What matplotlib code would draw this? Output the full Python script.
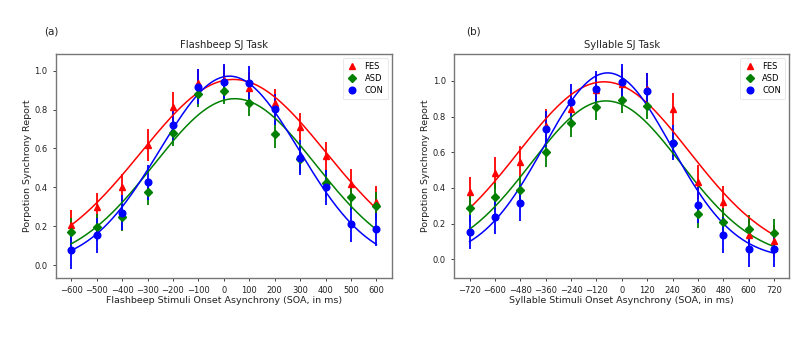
import numpy as np
import matplotlib
matplotlib.use("Agg")
import matplotlib.pyplot as plt

# ---------------- Data ----------------
soa_flash = [-600, -500, -400, -300, -200, -100, 0, 100, 200, 300, 400, 500, 600]
fes_flash = [0.205, 0.30, 0.40, 0.618, 0.815, 0.935, 0.95, 0.913, 0.835, 0.712, 0.561, 0.417, 0.326]
fes_flash_err = [0.08, 0.07, 0.07, 0.08, 0.075, 0.075, 0.08, 0.08, 0.07, 0.07, 0.07, 0.075, 0.08]
asd_flash = [0.170, 0.194, 0.245, 0.377, 0.678, 0.878, 0.896, 0.835, 0.673, 0.544, 0.42, 0.352, 0.304]
asd_flash_err = [0.07, 0.07, 0.07, 0.07, 0.065, 0.065, 0.065, 0.07, 0.07, 0.07, 0.07, 0.07, 0.07]
con_flash = [0.077, 0.154, 0.269, 0.426, 0.72, 0.918, 0.943, 0.935, 0.801, 0.552, 0.40, 0.209, 0.184]
con_flash_err = [0.095, 0.09, 0.09, 0.09, 0.08, 0.09, 0.09, 0.09, 0.08, 0.09, 0.09, 0.09, 0.085]
# Gaussian fit parameters (amplitude, centre, width)
fit_flash = {"FES": (0.955, 38, 364), "ASD": (0.856, 43, 317), "CON": (0.972, 22, 275)}

soa_syl = [-720, -600, -480, -360, -240, -120, 0, 120, 240, 360, 480, 600, 720]
fes_syl = [0.376, 0.486, 0.545, 0.75, 0.843, 0.95, 0.98, 0.955, 0.843, 0.435, 0.323, 0.136, 0.104]
fes_syl_err = [0.087, 0.09, 0.09, 0.09, 0.09, 0.09, 0.09, 0.09, 0.09, 0.095, 0.09, 0.09, 0.09]
asd_syl = [0.288, 0.351, 0.389, 0.60, 0.763, 0.856, 0.893, 0.862, 0.651, 0.252, 0.211, 0.17, 0.149]
asd_syl_err = [0.077, 0.077, 0.077, 0.08, 0.075, 0.075, 0.075, 0.075, 0.08, 0.075, 0.077, 0.077, 0.077]
con_syl = [0.151, 0.239, 0.316, 0.731, 0.884, 0.955, 0.993, 0.944, 0.654, 0.305, 0.136, 0.056, 0.056]
con_syl_err = [0.095, 0.095, 0.1, 0.1, 0.1, 0.1, 0.1, 0.1, 0.1, 0.1, 0.1, 0.1, 0.1]
fit_syl = {"FES": (0.995, -84, 403), "ASD": (0.888, -75, 354), "CON": (1.045, -67, 301)}

groups = ["FES", "ASD", "CON"]
colors = {"FES": "#ff0000", "ASD": "#008000", "CON": "#0000ff"}
markers = {"FES": "^", "ASD": "D", "CON": "o"}

plt.rcParams['font.family'] = ['DejaVu Sans']
fig = plt.figure(figsize=(7.99, 3.54), dpi=100)
ax1 = fig.add_axes([0.0701, 0.2155, 0.4201, 0.632])
ax2 = fig.add_axes([0.5686, 0.2155, 0.4193, 0.632])

def gauss(x, a, mu, s):
    return a * np.exp(-(x - mu) ** 2 / (2 * s ** 2))

def panel(ax, x, ys, errs, fits, ticks, xlabel, title, ylim):
    x = np.array(x)
    xx = np.linspace(x.min(), x.max(), 300)
    for g, y, e in zip(groups, ys, errs):
        c = colors[g]
        ax.errorbar(x, y, yerr=e, fmt='none', ecolor=c, elinewidth=1.3, capsize=0, zorder=2)
        ax.plot(x, y, linestyle='none', marker=markers[g], color=c,
                markersize=4.8 if g != "ASD" else 4.4, label=g, zorder=3)
    for g in groups:
        a, mu, s = fits[g]
        ax.plot(xx, gauss(xx, a, mu, s), color=colors[g], lw=1.1, zorder=2.5)
    ax.set_xticks(ticks)
    ax.set_xticklabels([str(t).replace('-', '\u2212') for t in ticks])
    ax.set_xlim(x.min() - 0.05 * (x.max() - x.min()), x.max() + 0.05 * (x.max() - x.min()))
    ax.set_ylim(*ylim)
    ax.set_yticks([0.0, 0.2, 0.4, 0.6, 0.8, 1.0])
    ax.tick_params(labelsize=6, length=2.5, width=0.6, colors='#222222')
    ax.set_xlabel(xlabel, fontsize=6.8, labelpad=1, color='#222222')
    ax.set_ylabel("Porpotion Synchrony Report", fontsize=6.8, labelpad=2, color='#222222')
    ax.set_title(title, fontsize=7.2, pad=4, color='#222222')
    for sp in ax.spines.values():
        sp.set_color('#777777')
        sp.set_linewidth(1.0)
    leg = ax.legend(loc='upper right', fontsize=6, frameon=True, handlelength=1.2,
                    handletextpad=0.9, borderpad=0.5, labelspacing=0.35, numpoints=1)
    leg.get_frame().set_edgecolor('#dddddd')
    leg.get_frame().set_linewidth(0.6)

panel(ax1, soa_flash, [fes_flash, asd_flash, con_flash],
      [fes_flash_err, asd_flash_err, con_flash_err], fit_flash,
      soa_flash, "Flashbeep Stimuli Onset Asynchrony (SOA, in ms)",
      "Flashbeep SJ Task", (-0.065, 1.086))
panel(ax2, soa_syl, [fes_syl, asd_syl, con_syl],
      [fes_syl_err, asd_syl_err, con_syl_err], fit_syl,
      soa_syl, "Syllable Stimuli Onset Asynchrony (SOA, in ms)",
      "Syllable SJ Task", (-0.103, 1.151))

fig.text(44 / 799, 1 - 31 / 354, "(a)", fontsize=7.5, ha='left', va='center', color='#222222')
fig.text(466 / 799, 1 - 31 / 354, "(b)", fontsize=7.5, ha='left', va='center', color='#222222')

fig.savefig("out.png", dpi=100)
